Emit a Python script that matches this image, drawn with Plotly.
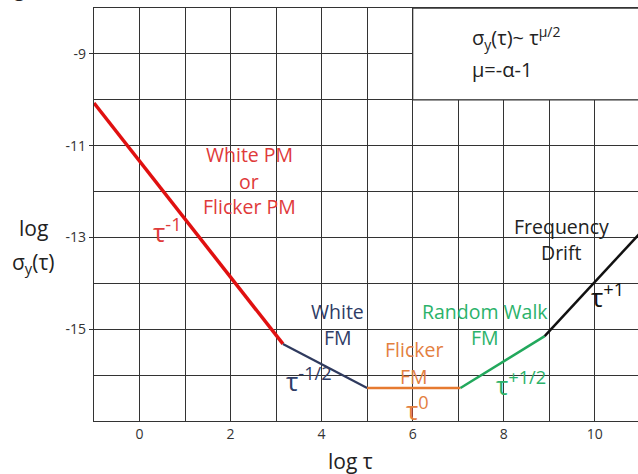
import plotly.graph_objects as go

# ---- data (log tau, log sigma_y) ----
red_x = [-1.0, 3.15]
red_y = [-10.07, -15.32]
navy_x = [3.15, 5.0]
navy_y = [-15.32, -16.28]
orange_x = [5.0, 7.05]
orange_y = [-16.28, -16.28]
green_x = [7.05, 8.9]
green_y = [-16.28, -15.15]
black_x = [8.9, 11.0]
black_y = [-15.15, -12.9]

x_tick_vals = [0, 2, 4, 6, 8, 10]
x_tick_text = ["0", "2", "4", "6", "8", "10"]
y_tick_vals = [-9, -11, -13, -15]
y_tick_text = ["-9", "-11", "-13", "-15"]

FONT = "Open Sans"
GRID = "#333333"

fig = go.Figure()
segments = [
    (red_x, red_y, "#e01010", 3.5),
    (navy_x, navy_y, "#2f3a5e", 2.2),
    (orange_x, orange_y, "#e67a30", 2.5),
    (green_x, green_y, "#22a85c", 2.5),
    (black_x, black_y, "#111111", 2.5),
]
for xs, ys, col, w in segments:
    fig.add_trace(go.Scatter(x=xs, y=ys, mode="lines",
                             line=dict(color=col, width=w),
                             showlegend=False, hoverinfo="skip"))

# white box in upper right
fig.add_shape(type="rect", x0=6, x1=11.5, y0=-10, y1=-8,
              xref="x", yref="y", fillcolor="white",
              line=dict(color=GRID, width=1.3), layer="above")

def txt(x, y, s, color, size, xanchor="center"):
    fig.add_annotation(x=x, y=y, xref="x", yref="y", text=s, showarrow=False,
                       font=dict(family=FONT, size=size, color=color),
                       xanchor=xanchor, yanchor="middle")

RED_T = "#e03a3a"
NAVY_T = "#2f3c66"
ORANGE_T = "#e3803f"
GREEN_T = "#2bb26a"
DARK_T = "#222222"

LS = 19.5
TS = 26
txt(2.41, -11.2, "White PM", RED_T, LS)
txt(2.41, -11.77, "or", RED_T, LS)
txt(2.41, -12.32, "Flicker PM", RED_T, LS)
txt(0.62, -12.85, "τ<sup>-1</sup>", RED_T, TS)

txt(4.35, -14.62, "White", NAVY_T, LS)
txt(4.35, -15.19, "FM", NAVY_T, LS)
txt(3.72, -16.1, "τ<sup>-1/2</sup>", NAVY_T, TS)

txt(6.04, -15.45, "Flicker", ORANGE_T, LS)
txt(6.04, -16.04, "FM", ORANGE_T, LS)
txt(6.1, -16.74, "τ<sup>0</sup>", ORANGE_T, TS)

txt(7.58, -14.62, "Random Walk", GREEN_T, LS)
txt(7.58, -15.17, "FM", GREEN_T, LS)
txt(8.37, -16.2, "τ<sup>+1/2</sup>", GREEN_T, TS)

txt(9.26, -12.77, "Frequency", DARK_T, LS)
txt(9.26, -13.32, "Drift", DARK_T, LS)
txt(10.28, -14.27, "τ<sup>+1</sup>", "#111111", TS)

txt(7.27, -8.65, "σ<sub>y</sub>(τ)~ τ<sup>μ/2</sup>", DARK_T, 20, xanchor="left")
txt(7.27, -9.35, "μ=-α-1", DARK_T, 20, xanchor="left")

W, H = 638, 474
ML, MR, MT, MB = 94, 0, 8, 53
PW, PH = W - ML - MR, H - MT - MB

def px2paper(px, py):
    return (px - ML) / PW, (H - MB - py) / PH

for (px, py), s, size in [((33, 228), "log", 21),
                          ((33, 263), "σ<sub>y</sub>(τ)", 21),
                          ((350, 461), "log τ", 21)]:
    xp, yp = px2paper(px, py)
    fig.add_annotation(x=xp, y=yp, xref="paper", yref="paper", text=s,
                       showarrow=False, xanchor="center", yanchor="middle",
                       font=dict(family=FONT, size=size, color=DARK_T))

# cut-off glyph at the very top-left
xp, yp = px2paper(19, 4)
fig.add_annotation(x=xp, y=yp, xref="paper", yref="paper", text="g",
                   showarrow=False, xanchor="center", yanchor="bottom",
                   font=dict(family=FONT, size=20, color=DARK_T))

fig.update_layout(
    width=W, height=H,
    margin=dict(l=ML, r=MR, t=MT, b=MB),
    paper_bgcolor="white", plot_bgcolor="white",
    xaxis=dict(range=[-1, 10.95], tickvals=x_tick_vals, ticktext=x_tick_text,
               showgrid=True, gridcolor=GRID, gridwidth=1.3, zeroline=False,
               showline=True, linecolor=GRID, linewidth=1.3, mirror=True,
               ticks="", tickfont=dict(family=FONT, size=14, color="#333333"),
               minor=dict(tick0=-1, dtick=1, showgrid=True, gridcolor=GRID,
                          gridwidth=1.3)),
    yaxis=dict(range=[-17, -8], tickvals=y_tick_vals, ticktext=y_tick_text,
               showgrid=True, gridcolor=GRID, gridwidth=1.3, zeroline=False,
               showline=True, linecolor=GRID, linewidth=1.3, mirror=True,
               ticks="outside", ticklen=4, tickcolor=GRID,
               tickfont=dict(family=FONT, size=14, color="#333333"),
               minor=dict(tick0=-17, dtick=1, showgrid=True, gridcolor=GRID,
                          gridwidth=1.3)),
)

fig.write_html("out.html", config={"displayModeBar": False},
               post_script="document.body.style.margin='0px';document.body.style.padding='0px';")
